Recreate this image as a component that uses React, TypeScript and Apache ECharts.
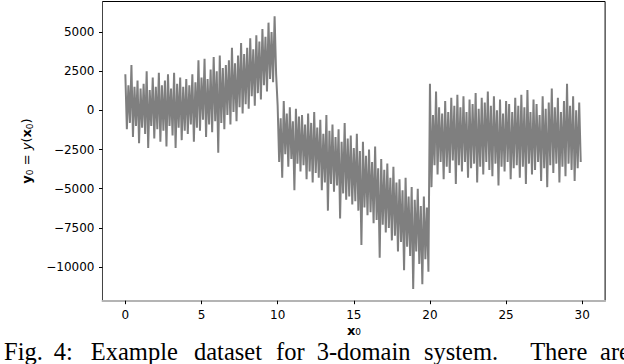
import React, { useEffect, useRef } from "react";
import * as echarts from "echarts";

// sampled upper / lower swings of the noisy signal, read from the picture
// domain 1: x in [0, 10)
const hi1 = [2300, 1600, 2900, 1500, 1900, 1400, 1700, 2500, 1300, 2100,
  1500, 2400, 1600, 1900, 2300, 1400, 2400, 1700, 2100, 1500,
  2000, 1600, 2300, 1800, 3200, 2100, 3300, 2000, 2600, 3400,
  2500, 3500, 2700, 2900, 3200, 4000, 3000, 3500, 4300, 3600,
  4000, 4600, 3900, 4800, 4400, 5200, 4700, 5600, 5000, 6000];
const lo1 = [-1200, -800, -1700, -1000, -2100, -1100, -1500, -2400, -1000, -1800,
  -1200, -2000, -1300, -2300, -1000, -1600, -2400, -1100, -1900, -1300,
  -1500, -900, -2000, -1100, -1300, -600, -1700, -900, -1400, -700,
  -2700, -800, -1200, -300, -900, -100, -700, 200, -200, 400,
  100, 900, 300, 1100, 700, 1600, 1200, 2000, 1800, 2300];
// domain 2: x in [10, 20)
const hi2 = [300, -500, 600, -200, 200, -700, 100, -400, -300, -900,
  -200, -800, -100, -1100, -600, -1500, -300, -1300, -900, -1700,
  -1200, -2000, -800, -1800, -1600, -2400, -1500, -2600, -2000, -2900,
  -2500, -3300, -2300, -3700, -3100, -3800, -3400, -4300, -3600, -4600,
  -4400, -5100, -4300, -5500, -4900, -5700, -5000, -6100, -5500, -6200];
const lo2 = [-3300, -4300, -2800, -3600, -3100, -5100, -3400, -3900, -3500, -4400,
  -3900, -4600, -4000, -4300, -5100, -4600, -6400, -4700, -5200, -4800,
  -6900, -5300, -5700, -5500, -6000, -5800, -6400, -8600, -6200, -6700,
  -6500, -7200, -7000, -9400, -7300, -7800, -7500, -8300, -8000, -9000,
  -8400, -10200, -8700, -9300, -11400, -9000, -9800, -11100, -9500, -10300];
// domain 3: x in [20, 30]
const hi3 = [1700, -300, 1200, 200, -200, 600, -100, 800, 300, 1000,
  200, 900, -100, 700, 400, 1100, 100, 800, 500, 1200,
  300, 900, 0, 700, -200, 600, 400, -100, 800, 300,
  1000, 200, 1300, -100, 700, 400, -300, 900, 100, 500,
  1400, 200, 800, -100, 600, 1700, 300, 900, 0, 500];
const lo3 = [-4900, -3500, -4100, -3300, -4400, -3600, -4000, -3200, -4700, -3500,
  -3900, -3300, -4300, -3700, -3400, -4600, -3600, -4100, -3300, -3800,
  -4200, -3400, -4800, -3600, -3900, -3300, -4400, -3700, -3500, -4300,
  -3600, -4700, -3400, -4100, -3800, -3300, -4500, -3700, -4900, -3500,
  -4000, -3400, -4600, -3600, -4200, -3400, -3800, -4500, -3700, -3300];

const domainStarts = [0, 10, 20];
const domainWidth = 10;
const xTicks = [0, 5, 10, 15, 20, 25, 30];
const yTicks = [-10000, -7500, -5000, -2500, 0, 2500, 5000];

const captionWords = [
  { t: "Fig.", c: 23.5 },
  { t: "4:", c: 63.4 },
  { t: "Example", c: 134.3 },
  { t: "dataset", c: 228 },
  { t: "for", c: 290.4 },
  { t: "3-domain", c: 363.6 },
  { t: "system.", c: 461 },
  { t: "There", c: 558.7 },
  { t: "are", c: 615 },
];

function buildData() {
  const pairs = [[hi1, lo1], [hi2, lo2], [hi3, lo3]];
  const out: number[][] = [];
  pairs.forEach(([hi, lo], d) => {
    const step = domainWidth / hi.length;
    for (let i = 0; i < hi.length; i++) {
      out.push([domainStarts[d] + i * step, hi[i]]);
      out.push([domainStarts[d] + (i + 0.5) * step, lo[i]]);
    }
  });
  return out;
}

const fmt = (v: number) => (v < 0 ? "\u2212" + Math.abs(v) : String(v));

export default function App() {
  const ref = useRef<HTMLDivElement>(null);
  useEffect(() => {
    if (!ref.current) return;
    const chart = echarts.init(ref.current, null, { renderer: "svg" });
    const font = "DejaVu Sans";
    chart.setOption({
      animation: false,
      backgroundColor: "#fff",
      grid: {
        left: 102.5,
        top: 1.5,
        width: 502.6,
        height: 299.2,
        show: true,
        borderColor: "#000",
        borderWidth: 1,
      },
      xAxis: {
        type: "value",
        min: -1.5,
        max: 31.5,
        splitLine: { show: false },
        axisLine: { show: true, onZero: false, lineStyle: { color: "#b4b4b4", width: 2 } },
        axisTick: { show: true, customValues: xTicks, length: 3.5, lineStyle: { color: "#000", width: 1 } },
        axisLabel: { customValues: xTicks, margin: 8, fontSize: 12, fontFamily: font, color: "#000" },
      },
      yAxis: {
        type: "value",
        min: -12150,
        max: 6950,
        splitLine: { show: false },
        axisLine: { show: true, onZero: false, lineStyle: { color: "#444", width: 1 } },
        axisTick: { show: true, customValues: yTicks, length: 3.5, lineStyle: { color: "#000", width: 1 } },
        axisLabel: { customValues: yTicks, margin: 8, fontSize: 12, fontFamily: font, color: "#000", formatter: fmt },
      },
      series: [
        {
          type: "line",
          data: buildData(),
          showSymbol: false,
          symbol: "none",
          lineStyle: { color: "#7f7f7f", width: 2 },
          z: 1,
        },
      ],
      graphic: [
        {
          type: "text",
          x: 26,
          y: 151,
          rotation: Math.PI / 2,
          style: {
            text: "{b|y}{s|0}{n| = }{i|y}{n|(}{b|x}{s|0}{n|)}",
            align: "center",
            verticalAlign: "middle",
            rich: {
              b: { fontFamily: font, fontWeight: "bold", fontSize: 13, lineHeight: 16, fill: "#000" },
              n: { fontFamily: font, fontSize: 13, lineHeight: 16, fill: "#000" },
              i: { fontFamily: font, fontStyle: "italic", fontSize: 13, lineHeight: 16, fill: "#000" },
              s: { fontFamily: font, fontSize: 9, lineHeight: 10, verticalAlign: "bottom", fill: "#000" },
            },
          },
        },
        {
          type: "text",
          x: 354,
          y: 330,
          style: {
            text: "{b|x}{s|0}",
            align: "center",
            verticalAlign: "middle",
            rich: {
              b: { fontFamily: font, fontWeight: "bold", fontSize: 13, lineHeight: 13, fill: "#000" },
              s: { fontFamily: font, fontSize: 9, lineHeight: 9, verticalAlign: "bottom", fill: "#000" },
            },
          },
        },
        ...captionWords.map((w) => ({
          type: "text",
          x: w.c,
          y: 351,
          style: {
            text: w.t,
            align: "center",
            verticalAlign: "middle",
            fontFamily: "Liberation Serif",
            fontSize: 24.5,
            lineHeight: 20,
            fill: "#000",
          },
        })),
      ],
    });
    return () => chart.dispose();
  }, []);
  return <div ref={ref} style={{ width: 624, height: 364, position: "absolute", left: 0, top: 0 }} />;
}
